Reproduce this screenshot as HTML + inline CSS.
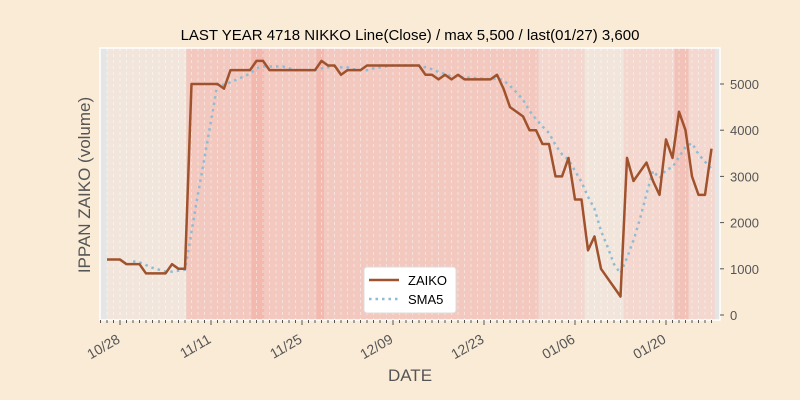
<!DOCTYPE html>
<html><head><meta charset="utf-8"><style>
html,body{margin:0;padding:0;background:#faebd7;}
svg{display:block;font-family:"Liberation Sans","DejaVu Sans",sans-serif;}
</style></head><body>
<svg id="chart" width="800" height="400" xmlns="http://www.w3.org/2000/svg">
<rect width="800" height="400" fill="#faebd7"/>
<text x="410" y="40" text-anchor="middle" font-size="15" fill="#000">LAST YEAR 4718 NIKKO Line(Close) / max 5,500 / last(01/27) 3,600</text>
<g id="bands"></g>
<g id="grid"></g>
<g id="series"></g>
<g id="axes"></g>
<text x="410" y="381" text-anchor="middle" font-size="17" fill="#555">DATE</text>
<text transform="translate(90,185) rotate(-90)" text-anchor="middle" font-size="17" fill="#555">IPPAN ZAIKO (volume)</text>
<g>
<rect x="364" y="267" width="92" height="46" rx="3" fill="#fff" stroke="#ddd"/>
<line x1="369" y1="280" x2="399" y2="280" stroke="#a0522d" stroke-width="2.5"/>
<text x="408" y="285" font-size="13" fill="#000">ZAIKO</text>
<line x1="369" y1="299" x2="399" y2="299" stroke="#8fbcd4" stroke-width="2.5" stroke-dasharray="2.5,4"/>
<text x="408" y="304" font-size="13" fill="#000">SMA5</text>
</g>
</svg>
<script>
const startDate = [2023, 9, 26];
const closeValues = [1200,1200,1200,1100,1100,1100,900,900,900,900,1100,1000,1000,5000,5000,5000,5000,5000,4900,5300,5300,5300,5300,5500,5500,5300,5300,5300,5300,5300,5300,5300,5300,5500,5400,5400,5200,5300,5300,5300,5400,5400,5400,5400,5400,5400,5400,5400,5400,5200,5200,5100,5200,5100,5200,5100,5100,5100,5100,5100,5200,4900,4500,4400,4300,4000,4000,3700,3700,3000,3000,3400,2500,2500,1400,1700,1000,800,600,400,3400,2900,3100,3300,2900,2600,3800,3400,4400,4000,3000,2600,2600,3600];
const yTicks = [0,1000,2000,3000,4000,5000];
const xTickLabels = ["10/28","11/11","11/25","12/09","12/23","01/06","01/20"];
const xTickIndex = [2,16,30,44,58,72,86];
const bandStart = [0,12.2,22.2,24.2,32.2,33.4,66.4,73.5,79.5,87.3,89.5];
const bandEnd = [12.2,22.2,24.2,32.2,33.4,66.4,73.5,79.5,87.3,89.5,93.5];
const bandColor = ["#f2e6dc","#f2c8bf","#f3b8ae","#f2c8bf","#f3b8ae","#f2c8bf","#f4d8cf","#f2e6dc","#f4d8cf","#f2c2b8","#f4d8cf"];

const svg = document.getElementById('chart');
const NS = 'http://www.w3.org/2000/svg';
const L=100,R=720,T=48,B=320;
const x0=107, dx=6.5;
const xs = i => x0 + dx*i;
const ys = v => 315 - v*(231/5000);
function mk(tag, attrs, parent){const e=document.createElementNS(NS,tag);for(const k in attrs)e.setAttribute(k,attrs[k]);parent.appendChild(e);return e;}

const bands=document.getElementById('bands');
const bg=mk('rect',{x:L,y:T,width:R-L,height:B-T,fill:'#e5e5e5'},bands);


for(let k=0;k<bandStart.length;k++){
  const r=mk('rect',{x:xs(bandStart[k]),y:T,width:(bandEnd[k]-bandStart[k])*dx,height:B-T,fill:bandColor[k]},bands);
  
  
}
const grid=document.getElementById('grid');
for(let i=0;i<closeValues.length;i++){
  const g=mk('line',{x1:xs(i),x2:xs(i),y1:T,y2:B,stroke:'#ffffff','stroke-opacity':0.45,'stroke-dasharray':'3,3','stroke-width':1},grid);
  
  
}
const series=document.getElementById('series');
const sma=[];
for(let i=4;i<closeValues.length;i++){let s=0;for(let j=i-4;j<=i;j++)s+=closeValues[j];sma.push([i,s/5]);}
const sp=mk('polyline',{points:sma.map(p=>xs(p[0])+','+ys(p[1])).join(' '),fill:'none',stroke:'#8fbcd4','stroke-width':2.5,'stroke-dasharray':'2.5,4'},series);


const cp=mk('polyline',{points:closeValues.map((v,i)=>xs(i)+','+ys(v)).join(' '),fill:'none',stroke:'#a0522d','stroke-width':2.5,'stroke-linejoin':'round'},series);



const axes=document.getElementById('axes');
const sp1=mk('rect',{x:L,y:T,width:R-L,height:B-T,fill:'none',stroke:'#fff','stroke-width':1.5},axes);


for(const v of yTicks){
  const y=ys(v);
  const t=mk('line',{x1:R,x2:R+4,y1:y,y2:y,stroke:'#555'},axes);
  
  
  const lb=mk('text',{x:R+10,y:y+5,'font-size':13,fill:'#555'},axes);
  lb.textContent=v;
  
  
}
for(let i=0;i<closeValues.length+1;i++){
  const t=mk('line',{x1:xs(i)-dx,x2:xs(i)-dx,y1:B,y2:B+3,stroke:'#555'},axes);
  
  
}
for(let k=0;k<xTickLabels.length;k++){
  const x=xs(xTickIndex[k]);
  const t=mk('line',{x1:x,x2:x,y1:B,y2:B+5,stroke:'#555'},axes);
  
  
  const ax=x+1, ay=B+22;
  const lb=mk('text',{x:ax,y:ay,'font-size':14,fill:'#555','text-anchor':'end',transform:'rotate(-30 '+ax+' '+ay+')'},axes);
  lb.textContent=xTickLabels[k];
  
  
}
</script>
</body></html>
